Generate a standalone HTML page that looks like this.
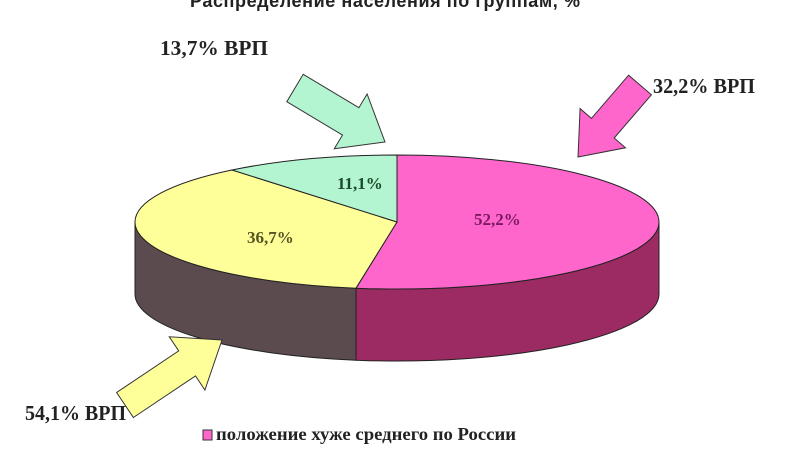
<!DOCTYPE html>
<html><head><meta charset="utf-8"><style>
html,body{margin:0;padding:0;background:#fff;}
svg{display:block}
</style></head><body>
<svg width="800" height="450" viewBox="0 0 800 450" xmlns="http://www.w3.org/2000/svg">
<rect width="800" height="450" fill="#fff"/>
<text x="385" y="7" text-anchor="middle" font-family="Liberation Sans, sans-serif" font-weight="bold" font-size="18" textLength="390" fill="#222">Распределение населения по группам, %</text>

<!-- side -->
<path d="M135,222 L135,294 A262,67 0 0 0 356,360.2 L356,288.2 A262,67 0 0 1 135,222 Z" fill="#5c4b4e" stroke="#222" stroke-width="1"/>
<path d="M356,288.2 L356,360.2 A262,67 0 0 0 659,294 L659,222 A262,67 0 0 1 356,288.2 Z" fill="#9b2b62" stroke="#222" stroke-width="1"/>
<!-- top face -->
<path d="M397,222 L397,155 A262,67 0 0 1 659,222 A262,67 0 0 1 356,288.2 Z" fill="#ff66cc" stroke="#222" stroke-width="1"/>
<path d="M397,222 L356,288.2 A262,67 0 0 1 135,222 A262,67 0 0 1 232,170 Z" fill="#ffff99" stroke="#222" stroke-width="1"/>
<path d="M397,222 L232,170 A262,67 0 0 1 397,155 Z" fill="#b3f5d0" stroke="#222" stroke-width="1"/>

<g font-family="Liberation Serif, serif" font-weight="bold" font-size="17">
<text x="337" y="189" fill="#1a4a2a">11,1%</text>
<text x="247" y="243" fill="#555522">36,7%</text>
<text x="474" y="225" fill="#7a1a60">52,2%</text>
</g>
<g font-family="Liberation Serif, serif" font-weight="bold" font-size="21" fill="#222">
<text x="160" y="55" textLength="108" lengthAdjust="spacingAndGlyphs">13,7% ВРП</text>
<text x="653" y="93" textLength="102" lengthAdjust="spacingAndGlyphs">32,2% ВРП</text>
<text x="25" y="420" textLength="101" lengthAdjust="spacingAndGlyphs">54,1% ВРП</text>
</g>

<!-- arrows -->
<polygon points="286.8,101.7 342.5,135.1 334.3,148.8 385,142 367.1,94 358.9,107.7 303.2,74.3" fill="#b3f5d0" stroke="#333" stroke-width="1"/>
<polygon points="628.6,75.2 591.4,118.4 580.1,108.6 578,157 625.5,147.8 614.2,138 651.4,94.8" fill="#ff66cc" stroke="#333" stroke-width="1"/>
<polygon points="133.4,417.5 195.5,375.9 204.9,390 222,340 169.3,336.8 178.7,350.9 116.6,392.5" fill="#ffff99" stroke="#333" stroke-width="1"/>

<rect x="203" y="430" width="9" height="10" fill="#ff66cc" stroke="#333" stroke-width="1"/>
<text x="216" y="440" font-family="Liberation Serif, serif" font-weight="bold" font-size="18" textLength="300" lengthAdjust="spacingAndGlyphs" fill="#222">положение хуже среднего по России</text>
</svg>
</body></html>
